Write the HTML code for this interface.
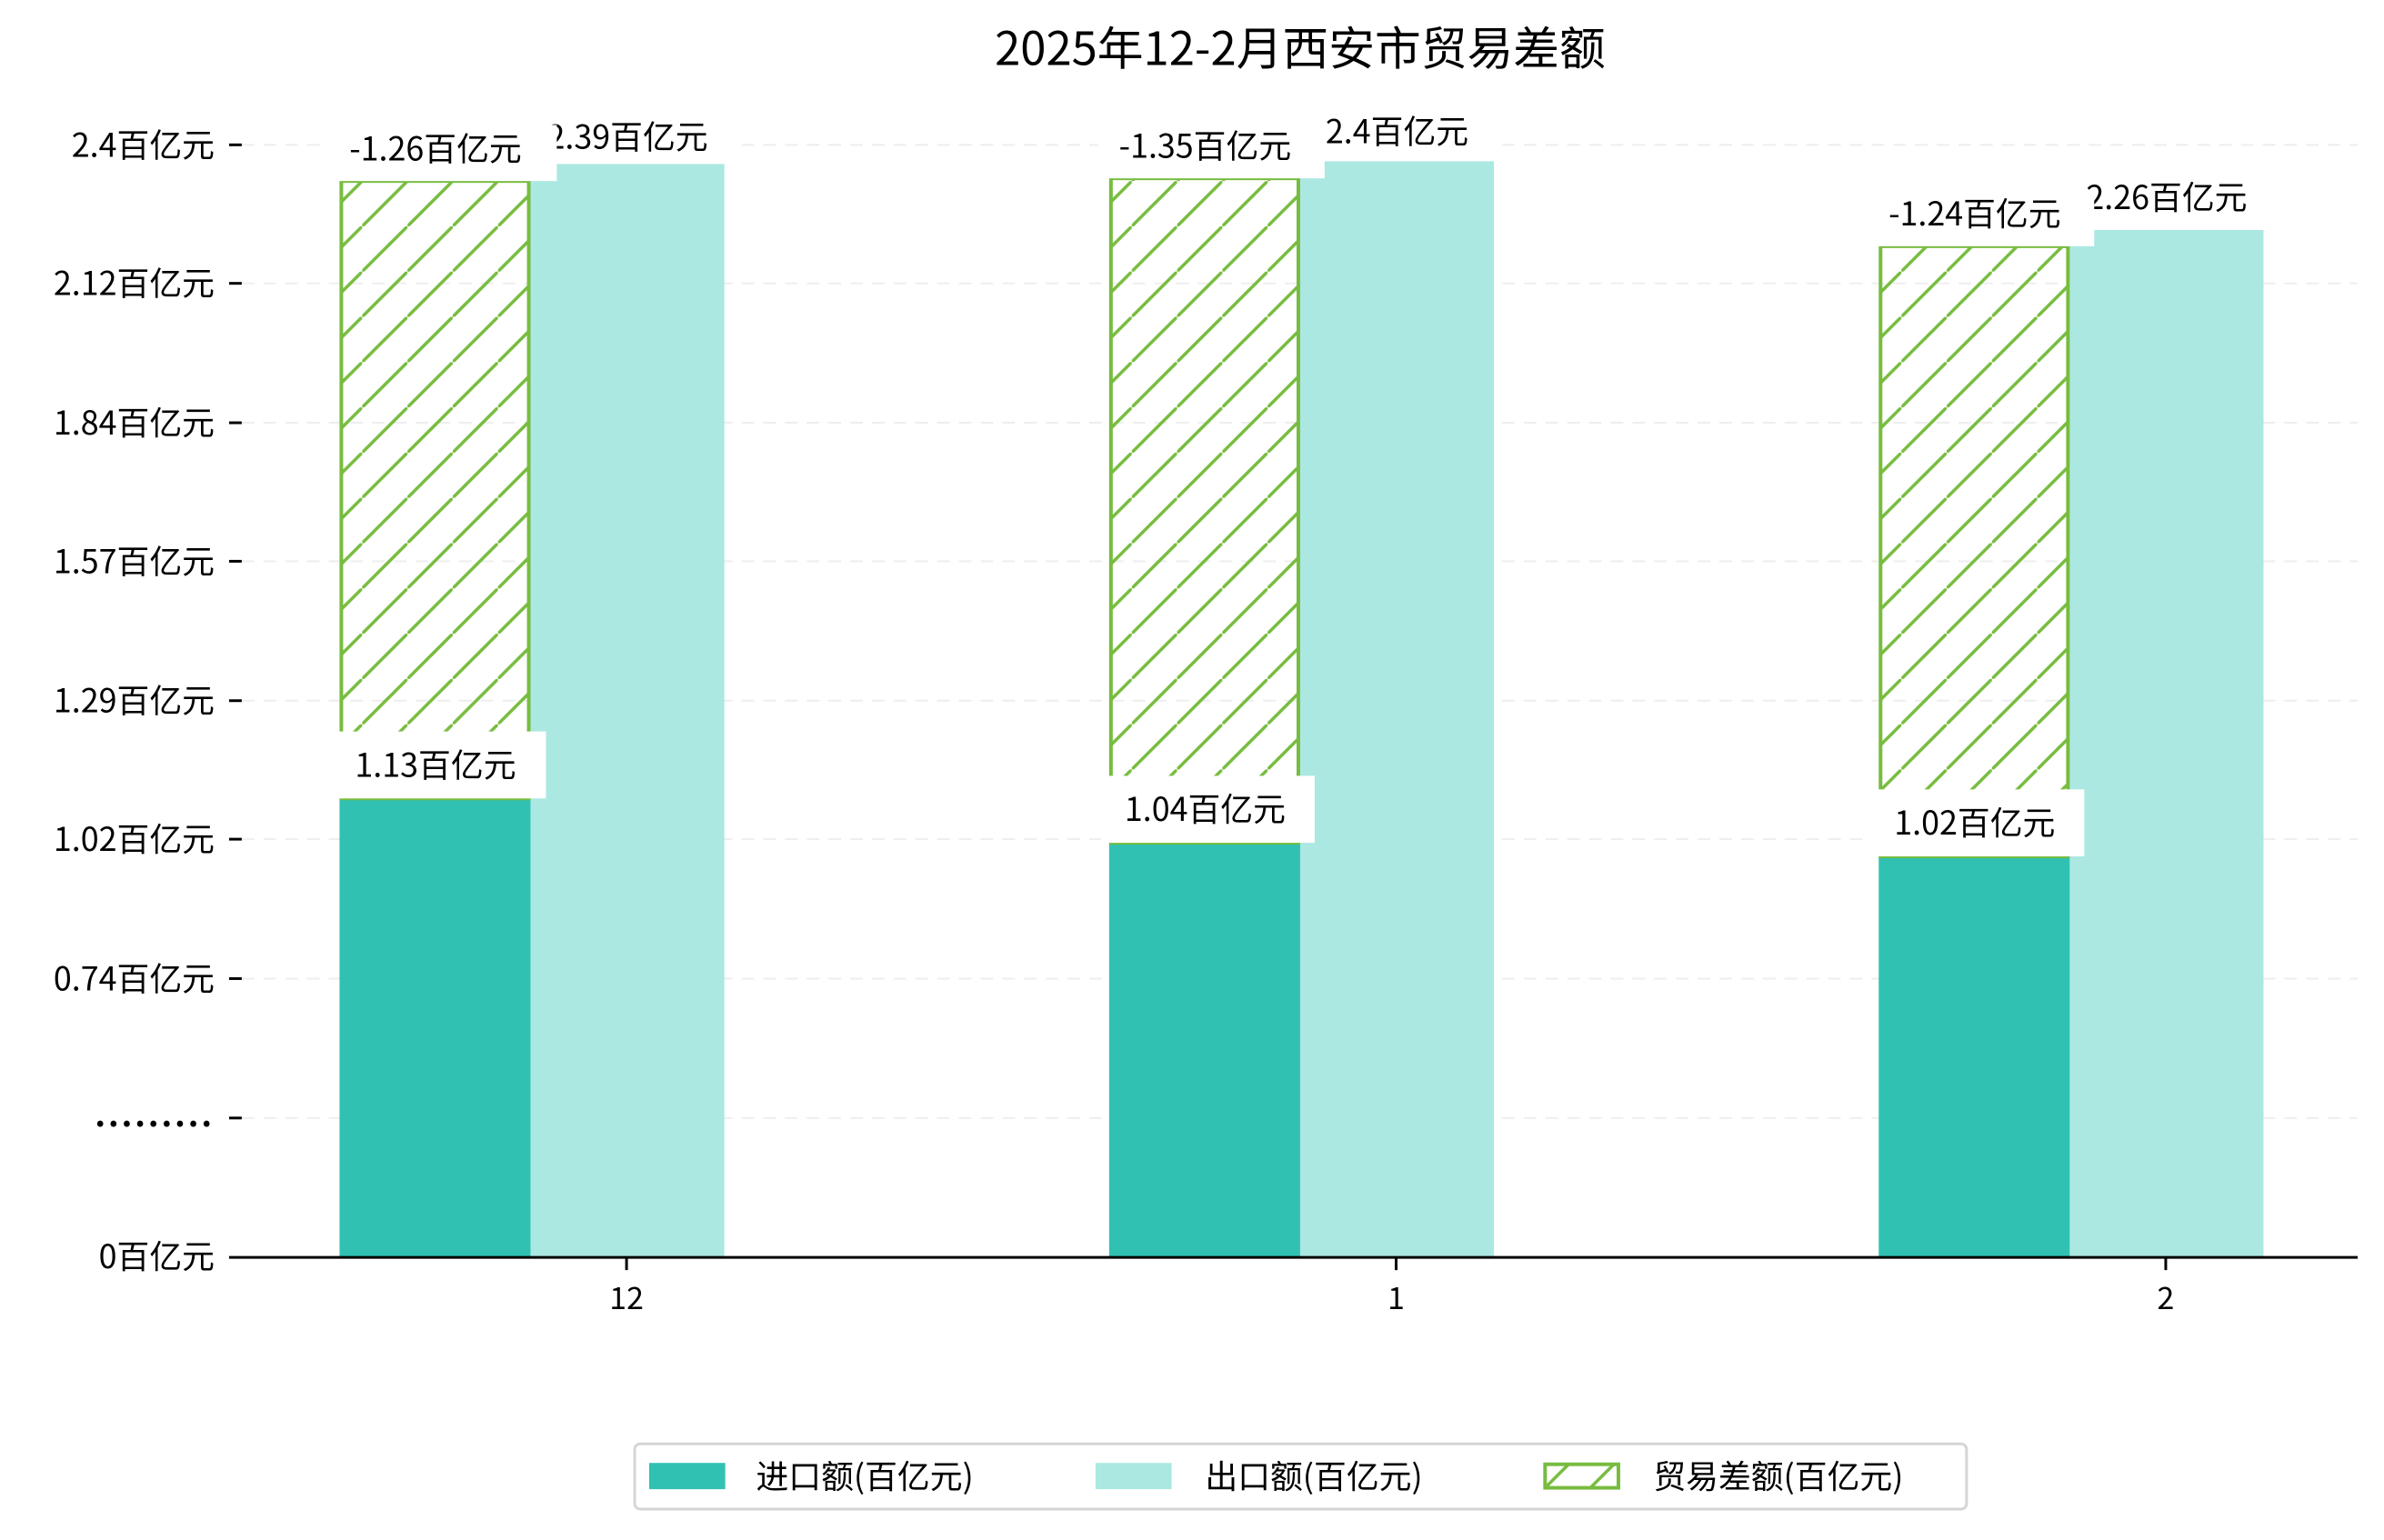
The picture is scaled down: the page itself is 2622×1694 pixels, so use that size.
<!DOCTYPE html>
<html><head><meta charset="utf-8"><style>
html,body{margin:0;padding:0;background:#fff}
svg text{font-family:"WenQuanYi Zen Hei","Noto Sans CJK SC",sans-serif;fill:#000}
</style></head><body>
<svg width="2622" height="1689" viewBox="0 0 2622 1689" xmlns="http://www.w3.org/2000/svg">
<defs>
<pattern id="h" patternUnits="userSpaceOnUse" width="50" height="50">
<line x1="-5" y1="55" x2="55" y2="-5" stroke="#77bc3f" stroke-width="3.5"/>
</pattern>
</defs>
<g transform="scale(0.9958)">
<text x="1436" y="72" font-size="51" text-anchor="middle">2025年12-2月西安市贸易差额</text>
<g stroke="#eeeeee" stroke-width="2" stroke-dasharray="14,10">
<line x1="267" y1="160" x2="2604" y2="160"/><line x1="267" y1="313" x2="2604" y2="313"/>
<line x1="267" y1="467" x2="2604" y2="467"/><line x1="267" y1="620" x2="2604" y2="620"/>
<line x1="267" y1="774" x2="2604" y2="774"/><line x1="267" y1="927" x2="2604" y2="927"/>
<line x1="267" y1="1081" x2="2604" y2="1081"/><line x1="267" y1="1235" x2="2604" y2="1235"/>
</g>
<g stroke="#000" stroke-width="3">
<line x1="253" y1="160" x2="267" y2="160"/><line x1="253" y1="313" x2="267" y2="313"/>
<line x1="253" y1="467" x2="267" y2="467"/><line x1="253" y1="620" x2="267" y2="620"/>
<line x1="253" y1="774" x2="267" y2="774"/><line x1="253" y1="927" x2="267" y2="927"/>
<line x1="253" y1="1081" x2="267" y2="1081"/><line x1="253" y1="1235" x2="267" y2="1235"/>
</g>
<g font-size="36" text-anchor="end">
<text x="237" y="173">2.4百亿元</text><text x="237" y="326">2.12百亿元</text>
<text x="237" y="480">1.84百亿元</text><text x="237" y="633">1.57百亿元</text>
<text x="237" y="787">1.29百亿元</text><text x="237" y="940">1.02百亿元</text>
<text x="237" y="1094">0.74百亿元</text>
<text x="237" y="1244" font-weight="bold" letter-spacing="3">.........</text>
<text x="237" y="1401">0百亿元</text>
</g>
<rect x="375" y="882" width="211" height="506" fill="#31c1b3"/>
<rect x="586" y="181" width="214" height="1207" fill="#abe8e2"/>
<rect x="377" y="200" width="207" height="682" fill="url(#h)" stroke="#77bc3f" stroke-width="4"/>
<rect x="1225" y="931" width="211" height="457" fill="#31c1b3"/>
<rect x="1436" y="178" width="214" height="1210" fill="#abe8e2"/>
<rect x="1227" y="197" width="207" height="734" fill="url(#h)" stroke="#77bc3f" stroke-width="4"/>
<rect x="2075" y="946" width="211" height="442" fill="#31c1b3"/>
<rect x="2286" y="254" width="214" height="1134" fill="#abe8e2"/>
<rect x="2077" y="272" width="207" height="674" fill="url(#h)" stroke="#77bc3f" stroke-width="4"/>
<g font-size="36" text-anchor="middle">
<rect x="575" y="119" width="236" height="62" fill="#fff"/><text x="693" y="164">2.39百亿元</text>
<rect x="361" y="138" width="254" height="62" fill="#fff"/><text x="481" y="177">-1.26百亿元</text>
<rect x="370" y="808" width="233" height="74" fill="#fff"/><text x="481" y="858">1.13百亿元</text>
<rect x="1440" y="116" width="210" height="62" fill="#fff"/><text x="1543" y="158">2.4百亿元</text>
<rect x="1213" y="135" width="250" height="62" fill="#fff"/><text x="1331" y="174">-1.35百亿元</text>
<rect x="1216" y="857" width="236" height="74" fill="#fff"/><text x="1331" y="907">1.04百亿元</text>
<rect x="2275" y="192" width="236" height="62" fill="#fff"/><text x="2393" y="231">2.26百亿元</text>
<rect x="2060" y="210" width="253" height="62" fill="#fff"/><text x="2181" y="249">-1.24百亿元</text>
<rect x="2065" y="872" width="237" height="74" fill="#fff"/><text x="2181" y="922">1.02百亿元</text>
</g>
<line x1="253" y1="1389" x2="2604" y2="1389" stroke="#000" stroke-width="3"/>
<g stroke="#000" stroke-width="3">
<line x1="692" y1="1389" x2="692" y2="1403"/><line x1="1542" y1="1389" x2="1542" y2="1403"/><line x1="2392" y1="1389" x2="2392" y2="1403"/>
</g>
<g font-size="34" text-anchor="middle">
<text x="692" y="1446">12</text><text x="1542" y="1446">1</text><text x="2392" y="1446">2</text>
</g>
<rect x="701" y="1595" width="1471" height="72" rx="6" fill="#fff" stroke="#d5d5d5" stroke-width="3"/>
<rect x="717" y="1616" width="84" height="29" fill="#31c1b3"/>
<rect x="1210" y="1616" width="84" height="29" fill="#abe8e2"/>
<rect x="1706.5" y="1617.5" width="81" height="26" fill="url(#h)" stroke="#77bc3f" stroke-width="4"/>
<g font-size="36">
<text x="835" y="1644">进口额(百亿元)</text>
<text x="1331" y="1644">出口额(百亿元)</text>
<text x="1826" y="1644">贸易差额(百亿元)</text>
</g>
</g>
</svg>
</body></html>
